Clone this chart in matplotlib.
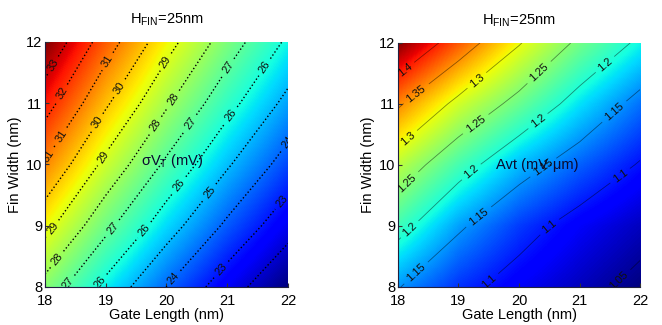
import matplotlib
matplotlib.use("Agg")
import numpy as np
import matplotlib.pyplot as plt

plt.rcParams['font.family'] = ['Liberation Sans', 'DejaVu Sans']
plt.rcParams['mathtext.fontset'] = 'custom'
plt.rcParams['mathtext.rm'] = 'Liberation Sans'
plt.rcParams['mathtext.it'] = 'Liberation Sans:italic'

# grid axes (nm)
gate_length = [18, 19, 20, 21, 22]
fin_width = [8, 9, 10, 11, 12]

# sigma V_T in mV; rows follow fin_width, columns follow gate_length
sigma_vt = [
    [27.65, 25.71, 23.99, 22.46, 21.09],
    [29.33, 27.27, 25.45, 23.82, 22.37],
    [30.91, 28.74, 26.82, 25.11, 23.58],
    [32.42, 30.14, 28.13, 26.34, 24.73],
    [33.86, 31.49, 29.38, 27.51, 25.83],
]

# Avt in mV.um; same layout
avt = [
    [1.152, 1.111, 1.084, 1.062, 1.040],
    [1.215, 1.156, 1.115, 1.085, 1.063],
    [1.277, 1.218, 1.167, 1.130, 1.097],
    [1.356, 1.288, 1.236, 1.183, 1.137],
    [1.450, 1.376, 1.303, 1.241, 1.192],
]

sigma_levels = [22, 23, 24, 25, 26, 27, 28, 29, 30, 31, 32, 33]
avt_levels = [1.05, 1.10, 1.15, 1.20, 1.25, 1.30, 1.35, 1.40]

x_ticks = [18, 19, 20, 21, 22]
y_ticks = [8, 9, 10, 11, 12]
title_text = r'H$_{\mathrm{FIN}}$=25nm'

# where the contour labels sit (gate length, fin width)
sigma_label_pos = [
    (18.13, 11.62), (18.13, 11.25), (18.13, 10.55), (19.0, 11.7),
    (18.2, 10.05), (19.1, 11.33), (18.13, 8.95), (19.0, 10.6),
    (19.86, 11.75), (18.2, 8.45), (19.04, 10.07), (19.94, 11.18),
    (18.3, 8.12), (19.07, 9.0), (19.94, 10.56), (20.85, 11.7),
    (18.85, 8.12), (19.6, 8.96), (20.5, 10.6), (21.45, 11.7),
    (20.3, 9.6), (21.2, 10.7), (20.14, 8.12), (20.9, 9.4),
    (21.9, 10.5), (21.1, 8.12), (21.9, 9.4),
]
avt_label_pos = [
    (18.12, 11.55), (18.3, 11.17), (19.3, 11.39), (18.15, 10.45),
    (20.3, 11.55), (19.27, 10.69), (18.15, 9.7), (21.4, 11.67),
    (20.25, 10.8), (19.2, 9.9), (18.2, 8.94), (21.55, 10.9),
    (19.3, 9.19), (18.3, 8.23), (20.37, 10.0), (21.65, 9.85),
    (20.45, 9.04), (19.45, 8.15), (21.67, 8.08),
]

fig = plt.figure(figsize=(6.62, 3.25), dpi=100)
ax1 = fig.add_axes([0.068, 0.117, 0.367, 0.754])
ax2 = fig.add_axes([0.601, 0.117, 0.366, 0.751])

L, W = np.meshgrid(gate_length, fin_width)
dx = (gate_length[1] - gate_length[0]) / 2
dy = (fin_width[1] - fin_width[0]) / 2
extent = (gate_length[0] - dx, gate_length[-1] + dx,
          fin_width[0] - dy, fin_width[-1] + dy)


def panel(ax, z, levels, fmt, ls, lw, alpha, positions, inner_text, text_xy):
    z = np.asarray(z)
    ax.imshow(z, origin='lower', extent=extent, cmap='jet',
              vmin=z.min(), vmax=z.max(), interpolation='bilinear',
              aspect='auto')
    cs = ax.contour(L, W, z, levels=levels, colors='k',
                    linestyles=ls, linewidths=lw, alpha=alpha)
    labels = ax.clabel(cs, fmt=fmt, fontsize=8, inline=True,
                       inline_spacing=2, manual=positions)
    for t in labels:
        t.set_color('#101010')
        t.set_alpha(1.0)
    ax.text(*text_xy, inner_text, fontsize=10.5, color='#0a0a30',
            ha='center', va='center')
    ax.set_xlim(18, 22)
    ax.set_ylim(8, 12)
    ax.set_xticks(x_ticks)
    ax.set_yticks(y_ticks)
    ax.tick_params(direction='in', length=3, labelsize=10.5,
                   color='#333333')
    ax.tick_params(axis='x', pad=5)
    ax.tick_params(axis='y', pad=2)
    for s in ('top', 'right'):
        ax.spines[s].set_visible(False)
    for s in ('left', 'bottom'):
        ax.spines[s].set_color('#202040')
        ax.spines[s].set_linewidth(0.8)
    ax.set_xlabel('Gate Length (nm)', fontsize=10.5, labelpad=0)
    ax.set_ylabel('Fin Width (nm)', fontsize=10.5, labelpad=3)
    ax.set_title(title_text, fontsize=10.5, pad=13)


panel(ax1, sigma_vt, sigma_levels, lambda v: f'{v:.0f}', ':', 1.0, 1.0,
      sigma_label_pos, r'σV$_{\mathrm{T}}$ (mV)', (20.1, 10.05))
panel(ax2, avt, avt_levels, lambda v: f'{v:g}', '-', 0.6, 0.45,
      avt_label_pos, 'Avt (mV·μm)', (20.3, 10.0))

fig.savefig('out.png', dpi=100)
